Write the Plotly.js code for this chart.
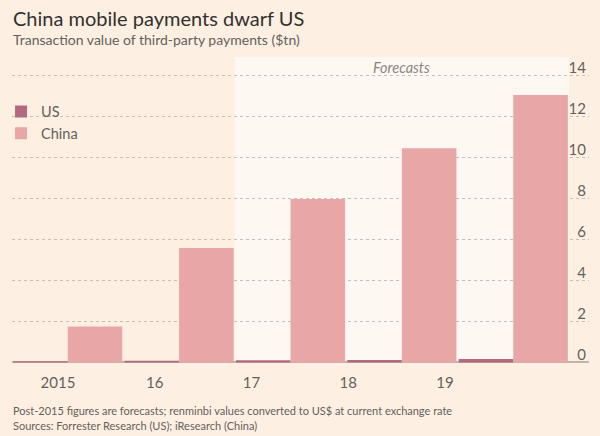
<!DOCTYPE html>
<html>
<head>
<meta charset="utf-8">
<script src="https://cdn.plot.ly/plotly-3.0.1.min.js"></script>
<style>html,body{margin:0;padding:0;background:#fdf0e2;}#chart{width:600px;height:436px;}</style>
</head>
<body>
<div id="chart"></div>
<script>
const years = ["2015", "16", "17", "18", "19"];
const usValues = [0.05, 0.08, 0.1, 0.12, 0.16];
const chinaValues = [1.75, 5.58, 7.97, 10.45, 13.05];
const yTicks = [0, 2, 4, 6, 8, 10, 12, 14];
const forecastStart = "17";

const FONT = "Lato, Noto Sans, sans-serif";
const GREY = "#66605c";

const traces = [
  {type: "bar", name: "US", x: years, y: usValues, marker: {color: "#b36a80"}, hoverinfo: "skip"},
  {type: "bar", name: "China", x: years, y: chinaValues, marker: {color: "#e8a7a6"}, hoverinfo: "skip"},
  {type: "scatter", mode: "markers", x: years, y: years.map(() => null), xaxis: "x2", yaxis: "y",
   showlegend: false, hoverinfo: "skip", marker: {opacity: 0}}
];

const startIdx = years.indexOf(forecastStart);

const layout = {
  width: 600, height: 436,
  margin: {l: 12, r: 11, t: 57, b: 73, autoexpand: false},
  paper_bgcolor: "#fdf0e2",
  plot_bgcolor: "rgba(0,0,0,0)",
  barmode: "group",
  bargap: 0.02,
  bargroupgap: 0,
  font: {family: FONT, color: GREY},
  xaxis: {
    type: "category", range: [-0.5, 4.68], showticklabels: false, showgrid: false,
    zeroline: false, showline: false, ticks: "", fixedrange: true
  },
  xaxis2: {
    type: "category", overlaying: "x", anchor: "y", side: "bottom",
    range: [-0.4755, 5.488], showgrid: false, zeroline: false, showline: false, ticks: "",
    tickfont: {size: 15, color: GREY, family: FONT}, ticklabelstandoff: 9
  },
  yaxis: {
    range: [-0.03, 14.9], side: "right", tickvals: yTicks, ticktext: yTicks.map(String),
    ticklabelposition: "inside", ticklabelshift: -8, ticklabelstandoff: 0,
    tickfont: {size: 15, color: GREY, family: FONT},
    showgrid: true, gridcolor: "#c9beb4", griddash: "dot", gridwidth: 1,
    zeroline: true, zerolinecolor: "#bdb5ad", zerolinewidth: 2,
    showline: false, ticks: ""
  },
  showlegend: true,
  legend: {
    x: -0.019, xanchor: "left", y: 0.874, yanchor: "top",
    bgcolor: "rgba(0,0,0,0)", font: {size: 14.5, color: GREY, family: FONT},
    tracegroupgap: 0, traceorder: "normal"
  },
  shapes: [{
    type: "rect", layer: "below", xref: "x", yref: "paper",
    x0: startIdx - 0.5, x1: years.length - 0.5, y0: 0, y1: 1,
    fillcolor: "#fef8f3", line: {width: 0}
  }],
  annotations: [
    {text: "China mobile payments dwarf US", xref: "paper", yref: "paper", x: -0.002, y: 1.172,
     xanchor: "left", yanchor: "top", showarrow: false, font: {size: 20, color: "#33302e", family: FONT}},
    {text: "Transaction value of third-party payments ($tn)", xref: "paper", yref: "paper", x: -0.002, y: 1.093,
     xanchor: "left", yanchor: "top", showarrow: false, font: {size: 14, color: GREY, family: FONT}},
    {text: "<i>Forecasts</i>", xref: "x", yref: "paper", x: 3, y: 0.967, xanchor: "center", yanchor: "middle",
     showarrow: false, font: {size: 14.5, color: "#8c8682", family: FONT}},
    {text: "Post-2015 figures are forecasts; renminbi values converted to US$ at current exchange rate",
     xref: "paper", yref: "paper", x: -0.002, y: -0.126, xanchor: "left", yanchor: "top", showarrow: false,
     font: {size: 11, color: GREY, family: FONT}},
    {text: "Sources: Forrester Research (US); iResearch (China)",
     xref: "paper", yref: "paper", x: -0.002, y: -0.178, xanchor: "left", yanchor: "top", showarrow: false,
     font: {size: 11, color: GREY, family: FONT}}
  ]
};

Plotly.newPlot("chart", traces, layout, {staticPlot: true, displayModeBar: false});
</script>
</body>
</html>
